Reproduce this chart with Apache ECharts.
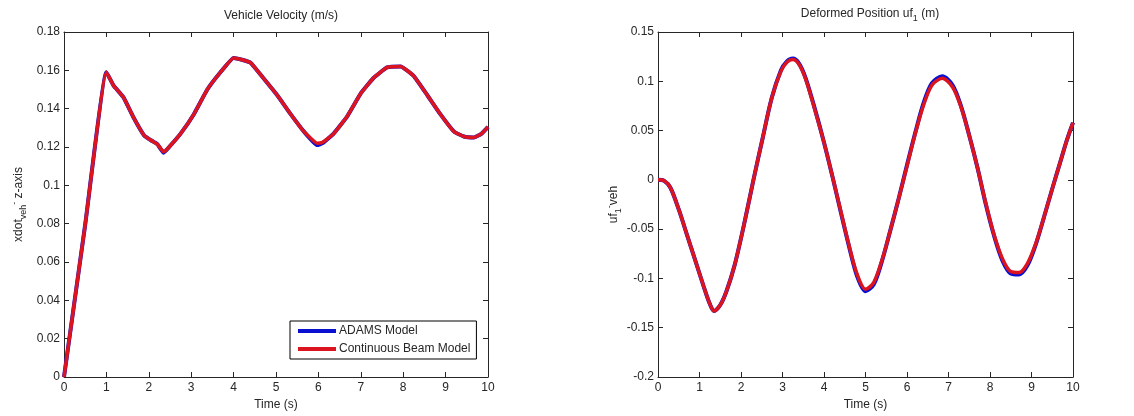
<!DOCTYPE html>
<html>
<head>
<meta charset="utf-8">
<script src="https://cdn.jsdelivr.net/npm/echarts@6/dist/echarts.min.js"></script>
<style>
  html, body { margin: 0; padding: 0; background: #fff; }
  #chart { width: 1134px; height: 416px; }
</style>
</head>
<body>
<div id="chart"></div>
<script>
// Vehicle velocity (m/s) over time (s)
const velTime  = [0, 0.5, 1.0, 1.17, 1.4, 1.65, 1.89, 2.05, 2.2, 2.35, 2.5, 2.75, 3.06, 3.38, 3.69, 4.0, 4.2, 4.4, 4.7, 5.03, 5.35, 5.66, 5.97, 6.1, 6.36, 6.68, 7.0, 7.3, 7.62, 7.94, 8.25, 8.57, 8.88, 9.2, 9.43, 9.67, 9.85, 10];
const velAdams = [0, 0.0795, 0.159, 0.152, 0.146, 0.135, 0.126, 0.1235, 0.1215, 0.117, 0.1205, 0.127, 0.137, 0.150, 0.159, 0.1665, 0.1655, 0.164, 0.156, 0.147, 0.137, 0.128, 0.121, 0.122, 0.127, 0.136, 0.148, 0.156, 0.1615, 0.162, 0.157, 0.147, 0.137, 0.128, 0.1255, 0.125, 0.127, 0.1305];
const velBeam  = [0, 0.0795, 0.159, 0.152, 0.146, 0.135, 0.126, 0.1235, 0.1215, 0.1175, 0.1205, 0.127, 0.137, 0.150, 0.159, 0.1665, 0.1655, 0.164, 0.156, 0.147, 0.137, 0.128, 0.122, 0.1225, 0.127, 0.136, 0.148, 0.156, 0.1615, 0.162, 0.157, 0.147, 0.137, 0.128, 0.1255, 0.125, 0.127, 0.1305];

// Deformed position uf1 (m) over time (s)
const posTime  = [0, 0.15, 0.3, 0.5, 0.7, 0.9, 1.1, 1.25, 1.35, 1.5, 1.65, 1.85, 2.07, 2.3, 2.52, 2.74, 2.96, 3.1, 3.25, 3.4, 3.56, 3.78, 4.0, 4.2, 4.4, 4.6, 4.8, 5.0, 5.2, 5.4, 5.6, 5.8, 6.0, 6.2, 6.4, 6.6, 6.85, 7.1, 7.3, 7.5, 7.7, 7.9, 8.1, 8.3, 8.5, 8.7, 8.9, 9.1, 9.3, 9.5, 9.7, 9.85, 10];
const posAdams = [0, -0.001, -0.008, -0.03, -0.056, -0.082, -0.108, -0.126, -0.133, -0.127, -0.113, -0.086, -0.046, 0.000, 0.042, 0.083, 0.111, 0.120, 0.123, 0.118, 0.103, 0.072, 0.038, 0.004, -0.032, -0.067, -0.098, -0.113, -0.106, -0.082, -0.051, -0.019, 0.015, 0.048, 0.078, 0.098, 0.105, 0.096, 0.075, 0.045, 0.012, -0.025, -0.057, -0.082, -0.095, -0.096, -0.087, -0.066, -0.038, -0.009, 0.019, 0.040, 0.058];
const posBeam  = [0, -0.001, -0.008, -0.03, -0.056, -0.082, -0.108, -0.126, -0.133, -0.127, -0.113, -0.086, -0.046, 0.000, 0.042, 0.083, 0.110, 0.119, 0.122, 0.117, 0.102, 0.071, 0.038, 0.004, -0.031, -0.066, -0.096, -0.111, -0.104, -0.081, -0.051, -0.019, 0.014, 0.047, 0.076, 0.096, 0.103, 0.094, 0.074, 0.045, 0.012, -0.024, -0.056, -0.080, -0.093, -0.094, -0.085, -0.065, -0.038, -0.009, 0.019, 0.040, 0.058];

const timeTicks = [0, 1, 2, 3, 4, 5, 6, 7, 8, 9, 10];
const seriesNames = ['ADAMS Model', 'Continuous Beam Model'];

const pairs = (xs, ys) => xs.map((x, i) => [x, ys[i]]);

const FONT = 'Liberation Sans, Arial, Helvetica, sans-serif';
const INK = '#262626';
const BLUE = '#0a10d0';
const RED = '#dc1420';

const subRich = {
  a: { fontSize: 12, fontWeight: 'normal', fontFamily: FONT, color: INK, lineHeight: 14 },
  s: { fontSize: 9, fontWeight: 'normal', fontFamily: FONT, color: INK, lineHeight: 9, padding: [9, 0, 0, 0] },
  p: { fontSize: 9, fontWeight: 'normal', fontFamily: FONT, color: INK, lineHeight: 9, padding: [0, 0, 9, 0] }
};

function xAxes(gridIndex) {
  return [
    {
      type: 'value', gridIndex, min: 0, max: 10, interval: 1,
      name: 'Time (s)', nameLocation: 'middle', nameGap: 22,
      nameTextStyle: { fontSize: 12, fontFamily: FONT, color: INK },
      axisLine: { show: true, onZero: false, lineStyle: { color: INK, width: 1 } },
      axisTick: { show: true, inside: true, length: 5, lineStyle: { color: INK } },
      axisLabel: { fontSize: 12, fontFamily: FONT, color: INK, margin: 5,
                   formatter: v => timeTicks.includes(v) ? String(v) : '' },
      splitLine: { show: false }
    },
    {
      type: 'value', gridIndex, min: 0, max: 10, interval: 1, position: 'top',
      axisLine: { show: true, onZero: false, lineStyle: { color: INK, width: 1 } },
      axisTick: { show: true, inside: true, length: 5, lineStyle: { color: INK } },
      axisLabel: { show: false }, splitLine: { show: false }
    }
  ];
}

function yAxes(gridIndex, min, max, interval, name, nameGap) {
  return [
    {
      type: 'value', gridIndex, min, max, interval,
      name, nameLocation: 'middle', nameGap, nameRotate: 90,
      nameTextStyle: { rich: subRich },
      axisLine: { show: true, onZero: false, lineStyle: { color: INK, width: 1 } },
      axisTick: { show: true, inside: true, length: 5, lineStyle: { color: INK } },
      axisLabel: { fontSize: 12, fontFamily: FONT, color: INK, margin: 4,
                   formatter: v => String(parseFloat(v.toFixed(4))) },
      splitLine: { show: false }
    },
    {
      type: 'value', gridIndex, min, max, interval, position: 'right',
      axisLine: { show: true, onZero: false, lineStyle: { color: INK, width: 1 } },
      axisTick: { show: true, inside: true, length: 5, lineStyle: { color: INK } },
      axisLabel: { show: false }, splitLine: { show: false }
    }
  ];
}

function lineSeries(name, color, width, xi, yi, data, z, smooth) {
  return {
    name, type: 'line', xAxisIndex: xi, yAxisIndex: yi, data,
    showSymbol: false, smooth, z,
    lineStyle: { color, width }, itemStyle: { color },
    emphasis: { disabled: true }, animation: false
  };
}

const chart = echarts.init(document.getElementById('chart'), null, { renderer: 'canvas' });
chart.setOption({
  backgroundColor: '#ffffff',
  animation: false,
  title: [
    { text: 'Vehicle Velocity (m/s)', left: 276, top: 5, textAlign: 'center',
      textStyle: { fontSize: 12, fontWeight: 'normal', fontFamily: FONT, color: INK } },
    { text: '{a|Deformed Position uf}{s|1}{a| (m)}', left: 865, top: 2, textAlign: 'center',
      textStyle: { fontWeight: 'normal', rich: subRich } }
  ],
  grid: [
    { left: 64, top: 32, width: 424, height: 345 },
    { left: 658, top: 32, width: 415, height: 345 }
  ],
  xAxis: [...xAxes(0), ...xAxes(1)],
  yAxis: [
    ...yAxes(0, 0, 0.18, 0.02, '{a|xdot}{s|veh}{p|-}{a| z-axis}', 38),
    ...yAxes(1, -0.2, 0.15, 0.05, '{a|uf}{s|1}{p|-}{a|veh}', 35)
  ],
  legend: {
    data: seriesNames, orient: 'vertical', left: 290, top: 321,
    icon: 'rect', itemWidth: 38, itemHeight: 4, itemGap: 6,
    padding: [4, 6, 4, 8], borderColor: '#000', borderWidth: 1,
    backgroundColor: '#fff',
    textStyle: { fontSize: 12, fontFamily: FONT, color: INK, padding: [0, 0, 0, -2] },
    selectedMode: false
  },
  series: [
    lineSeries(seriesNames[0], BLUE, 4, 0, 0, pairs(velTime, velAdams), 2, 0.12),
    lineSeries(seriesNames[1], RED, 3.5, 0, 0, pairs(velTime, velBeam), 3, 0.12),
    lineSeries(seriesNames[0], BLUE, 4, 2, 2, pairs(posTime, posAdams), 2, 0.3),
    lineSeries(seriesNames[1], RED, 3.5, 2, 2, pairs(posTime, posBeam), 3, 0.3)
  ]
});
</script>
</body>
</html>
